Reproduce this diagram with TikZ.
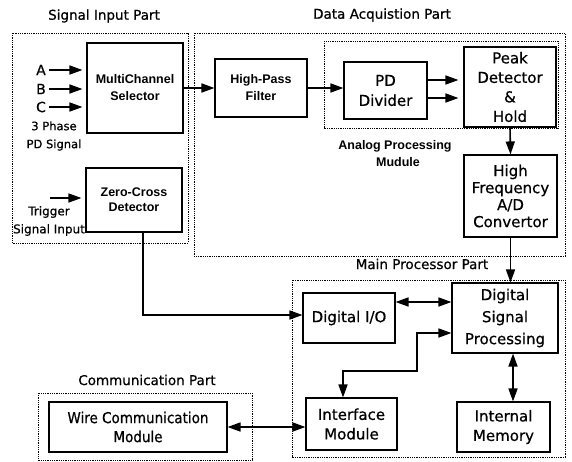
\documentclass[tikz,border=0pt]{standalone}
\usepackage{fontspec}
\setmainfont[FakeBold=0.6]{DejaVu Sans}
\newfontfamily\boldsans{Liberation Sans Bold}
\newfontfamily\narrowdv[FakeStretch=0.9,FakeBold=0.6]{DejaVu Sans}
\usetikzlibrary{arrows.meta}
\begin{document}
\begin{tikzpicture}[x=1pt,y=-1pt,
  blk/.style={draw,line width=1.1pt,inner sep=0pt,align=center},
  part/.style={draw,densely dotted,line width=0.8pt},
  ptitle/.style={inner sep=0pt,font=\fontsize{13.5}{15}\selectfont},
  btext/.style={font=\boldsans\fontsize{12.5}{17}\selectfont},
  ntext/.style={font=\fontsize{15}{19.5}\selectfont},
  arr/.style={line width=1.6pt,-{Triangle[length=13pt,width=9pt]}},
  darr/.style={line width=1.6pt,{Triangle[length=13pt,width=9pt]}-{Triangle[length=13pt,width=9pt]}},
  lab/.style={inner sep=0pt,font=\fontsize{11.5}{18}\selectfont}]
\useasboundingbox (0,0) rectangle (572,461);
\fill[white] (0,0) rectangle (572,461);

% part frames
\draw[part] (12,33) rectangle (188,243);
\draw[part] (194,33) rectangle (565,256);
\draw[part] (324,41) rectangle (558,128);
\draw[part] (292,280) rectangle (565,457);
\draw[part] (38,393) rectangle (252,460);

% part titles
\node[ptitle] (tin) at (104,16) {Signal Input Part};
\node[ptitle] (tdaq) at (382,15) {Data Acquistion Part};
\node[ptitle] (tmain) at (422,264) {Main Processor Part};
\node[ptitle] (tcom) at (147,380) {Communication Part};
\node[btext,align=center,inner sep=0pt] (tapm) at (395,153.5) {Analog Processing\\\hspace*{6pt}Mudule};

% blocks
\node[blk,btext,minimum width=96pt,minimum height=90pt] (mcs) at (135,88) {MultiChannel\\Selector};
\node[blk,btext,minimum width=96pt,minimum height=64pt,font=\boldsans\fontsize{12.5}{15}\selectfont] (zcd) at (134,200) {Zero-Cross\\Detector};
\node[blk,btext,minimum width=92pt,minimum height=58pt] (hpf) at (261,88) {High-Pass\\Filter};
\node[blk,ntext,minimum width=83pt,minimum height=57pt,font=\fontsize{15}{20}\selectfont] (pdd) at (385.5,90.5) {PD\\Divider};
\node[blk,ntext,minimum width=92pt,minimum height=80pt] (pdh) at (510,87) {Peak\\Detector\\\&\\Hold};
\node[blk,ntext,minimum width=93pt,minimum height=82pt,font=\fontsize{15}{17}\selectfont] (adc) at (510.5,196) {High\\Frequency\\A/D\\Convertor};
\node[blk,ntext,minimum width=92pt,minimum height=50pt] (dio) at (349,318) {Digital I/O};
\node[blk,ntext,minimum width=106pt,minimum height=70pt,font=\fontsize{15}{22}\selectfont] (dsp) at (505,318) {Digital\\Signal\\Processing};
\node[blk,ntext,minimum width=91pt,minimum height=52pt] (ifm) at (351.5,424) {Interface\\Module};
\node[blk,ntext,minimum width=93pt,minimum height=50pt] (mem) at (503.5,427) {Internal\\Memory};
\node[blk,ntext,minimum width=178pt,minimum height=50pt,font=\narrowdv\fontsize{15}{19}\selectfont] (wcm) at (138,427) {Wire Communication\\Module};

% phase inputs
\node[inner sep=0pt,font=\fontsize{14}{15}\selectfont] (la) at (41,70) {A};
\node[inner sep=0pt,font=\fontsize{14}{15}\selectfont] (lb) at (41,89) {B};
\node[inner sep=0pt,font=\fontsize{14}{15}\selectfont] (lc) at (41,107) {C};
\coordinate (ia) at ([xshift=-4pt]mcs.west |- la);
\coordinate (ib) at ([xshift=-4pt]mcs.west |- lb);
\coordinate (ic) at ([xshift=-4pt]mcs.west |- lc);
\draw[arr] ([xshift=3pt]la.east) -- (ia);
\draw[arr] ([xshift=3pt]lb.east) -- (ib);
\draw[arr] ([xshift=3pt]lc.east) -- (ic);
\node[lab,align=center] (l3p) at (54,136) {3 Phase\\PD Signal};

% trigger input
\coordinate (tsrc) at (50,198);
\coordinate (tdst) at ([xshift=-4pt]zcd.west |- tsrc);
\draw[arr] (tsrc) -- (tdst);
\node[lab,align=center,font=\fontsize{12}{18}\selectfont] (ltr) at (49,221) {Trigger\\Signal Input};

% signal chain
\draw[arr] (mcs.east |- hpf.west) -- (hpf.west);
\draw[arr] (hpf.east) -- (pdd.west |- hpf.east);
\coordinate (pa) at ([xshift=-5pt]pdh.west |- 0,80);
\coordinate (pb) at ([xshift=-5pt]pdh.west |- 0,98);
\draw[arr] (pdd.east |- pa) -- (pa);
\draw[arr] (pdd.east |- pb) -- (pb);
\draw[arr] (pdh.south) -- (adc.north);
\draw[arr] (adc.south) -- (adc.south |- dsp.north);

% zero-cross to digital I/O
\coordinate (zc1) at (143,315);
\draw[arr] (zcd.south -| zc1) -- (zc1) -- (dio.west |- zc1);

% main processor links
\draw[darr] (dio.east |- 0,302) -- (dsp.west |- 0,302);
\coordinate (k1) at (417,333);
\coordinate (k2) at (417,371);
\coordinate (k3) at (343,371);
\draw[darr] (dsp.west |- k1) -- (k1) -- (k2) -- (k3) -- (k3 |- ifm.north);
\draw[darr] (dsp.south -| 513,0) -- (mem.north -| 513,0);
\draw[darr] (wcm.east) -- (ifm.west |- wcm.east);
\end{tikzpicture}
\end{document}
